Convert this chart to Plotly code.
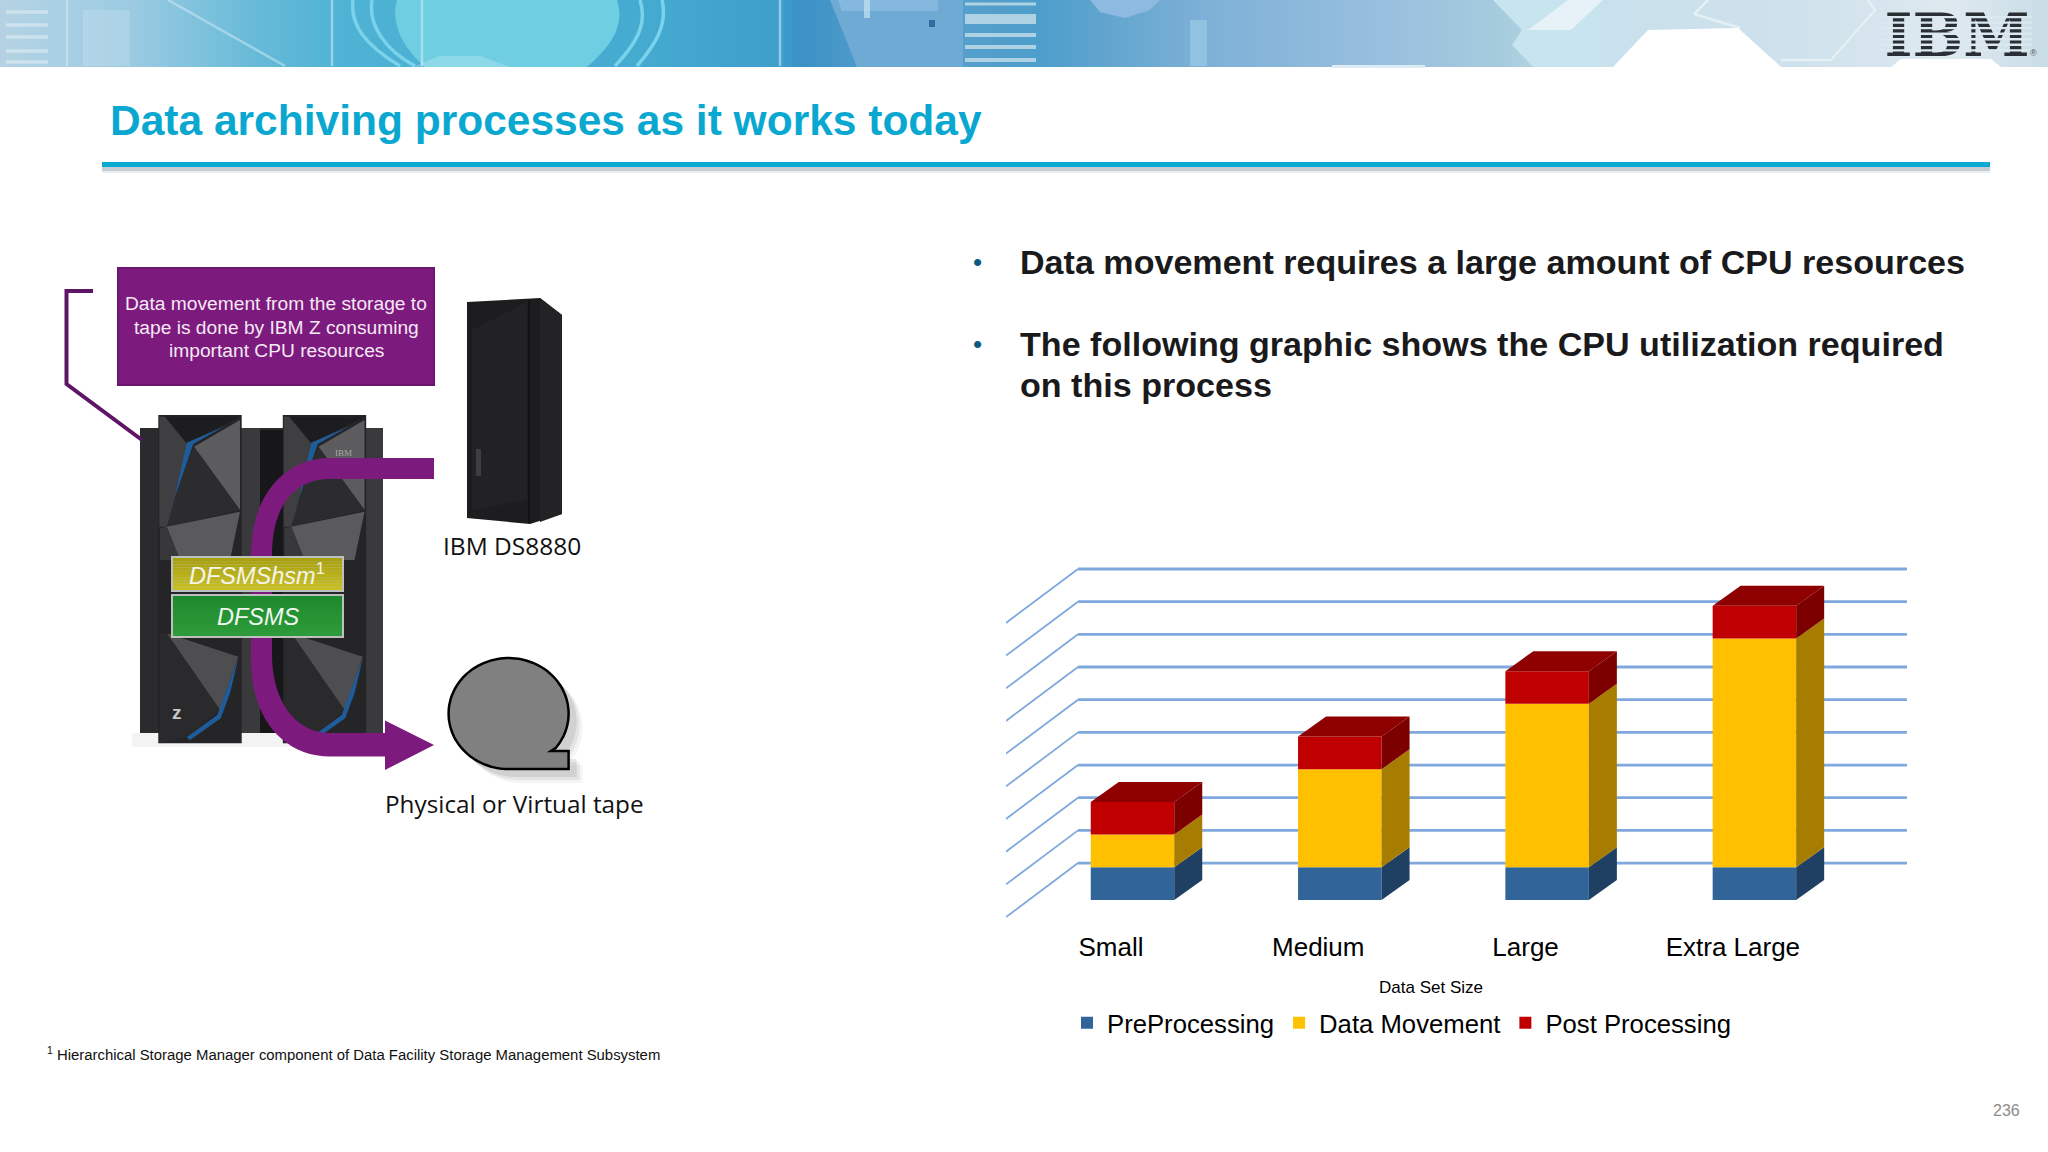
import numpy as np
import plotly.graph_objects as go

# chart data
categories = ["Small", "Medium", "Large", "Extra Large"]
preprocessing = [1, 1, 1, 1]
data_movement = [1, 3, 5, 7]
post_processing = [1, 1, 1, 1]
grid_values = [0, 1, 2, 3, 4, 5, 6, 7, 8, 9]

W, H = 2048, 1152
FONT = "Liberation Sans"
PURPLE = "#7D1A7E"
GRID = "#7FA8DC"

# pixel helpers, the slide is laid out in screen pixels
def dom_x(a, b):
    return [a / W, b / W]

def dom_y(top, bottom):
    return [1 - bottom / H, 1 - top / H]

# 3d look of the columns, in axis units
BAR_W = 83.5 / 207.3
DEPTH_X = 28 / 207.3
DEPTH_Y = 20 / 32.7
WALL_X = -72 / 829
WALL_Y = -54 / 32.7

series = [
    ("PreProcessing", preprocessing, "#31659A", "#1F3F63", "#1F3F63"),
    ("Data Movement", data_movement, "#FFC000", "#A67D00", "#A67D00"),
    ("Post Processing", post_processing, "#C00000", "#7D0000", "#8F0000"),
]

fig = go.Figure()

# back wall and side wall lines
back_x, back_y, side_x, side_y = [], [], [], []
for v in grid_values:
    back_x += [0, 1, None]
    back_y += [v, v, None]
    side_x += [0, WALL_X, None]
    side_y += [v, v + WALL_Y, None]
fig.add_trace(go.Scatter(x=back_x, y=back_y, mode="lines", line=dict(color=GRID, width=2.8),
                         showlegend=False, hoverinfo="skip", xaxis="x", yaxis="y"))
fig.add_trace(go.Scatter(x=side_x, y=side_y, mode="lines", line=dict(color=GRID, width=1.8),
                         showlegend=False, hoverinfo="skip", xaxis="x", yaxis="y"))

# stacked columns
base = [0, 0, 0, 0]
for name, vals, front, side, top in series:
    fig.add_trace(go.Bar(x=list(range(len(categories))), y=vals, base=base, name=name, width=BAR_W,
                         marker=dict(color=front, line=dict(width=0)), xaxis="x2", yaxis="y2",
                         hoverinfo="skip"))
    for i, v in enumerate(vals):
        xr = i + BAR_W / 2
        b = base[i]
        t = b + v
        fig.add_trace(go.Scatter(x=[xr, xr + DEPTH_X, xr + DEPTH_X, xr, xr],
                                 y=[b, b + DEPTH_Y, t + DEPTH_Y, t, b],
                                 mode="lines", fill="toself", fillcolor=side, line=dict(width=0),
                                 showlegend=False, hoverinfo="skip", xaxis="x2", yaxis="y2"))
    base = [b + v for b, v in zip(base, vals)]

# top faces of the stacks
top_color = series[-1][4]
for i, t in enumerate(base):
    xl, xr = i - BAR_W / 2, i + BAR_W / 2
    fig.add_trace(go.Scatter(x=[xl, xl + DEPTH_X, xr + DEPTH_X, xr, xl],
                             y=[t, t + DEPTH_Y, t + DEPTH_Y, t, t],
                             mode="lines", fill="toself", fillcolor=top_color, line=dict(width=0),
                             showlegend=False, hoverinfo="skip", xaxis="x2", yaxis="y2"))

# the striped logo needs to be a trace so the stripes can go on top of it
fig.add_trace(go.Scatter(x=[1957], y=[41], mode="text", text=["<b>IBM</b>"],
                         textfont=dict(family="DejaVu Serif", size=60, color="#2A2E35"),
                         textposition="middle center", showlegend=False, hoverinfo="skip",
                         cliponaxis=False, xaxis="x3", yaxis="y3"))

shapes = []

def rect(x0, y0, x1, y1, color, line=None, width=0, layer="below", opacity=1):
    shapes.append(dict(type="rect", xref="x3", yref="y3", x0=x0, y0=y0, x1=x1, y1=y1, fillcolor=color,
                       line=dict(color=line or color, width=width), layer=layer, opacity=opacity))

def poly(pts, color, line=None, width=0, layer="below", opacity=1):
    p = "M " + " L ".join(f"{x:.1f},{y:.1f}" for x, y in pts) + " Z"
    shapes.append(dict(type="path", xref="x3", yref="y3", path=p, fillcolor=color,
                       line=dict(color=line or color, width=width), layer=layer, opacity=opacity))

def stroke(pts, color, width, layer="below", opacity=1):
    p = "M " + " L ".join(f"{x:.1f},{y:.1f}" for x, y in pts)
    shapes.append(dict(type="path", xref="x3", yref="y3", path=p, line=dict(color=color, width=width),
                       layer=layer, opacity=opacity))

def curve(p, color, width, opacity=1):
    shapes.append(dict(type="path", xref="x3", yref="y3", path=p, line=dict(color=color, width=width),
                       layer="below", opacity=opacity))

# ---- banner
stops = [(0, "#B5D3E4"), (65, "#A9D0E4"), (130, "#9CCBE2"), (260, "#66BAD8"), (340, "#4FB3D5"),
         (640, "#46ABD1"),
         (780, "#3E9FCB"), (800, "#3B91C6"), (900, "#5BA1CE"), (1040, "#4E9ECB"), (1200, "#7DB0D6"),
         (1400, "#9BC1E0"), (1500, "#A5CCDD"), (1600, "#C9E1EC"), (1800, "#CFE2EC"), (1950, "#DFE9F0"),
         (2048, "#C9DDE7")]

def hex2rgb(c):
    return np.array([int(c[i:i + 2], 16) for i in (1, 3, 5)], float)

xs = [s[0] for s in stops]
rgb = np.array([hex2rgb(s[1]) for s in stops])
for x0 in range(0, W, 8):
    c = [np.interp(x0 + 4, xs, rgb[:, k]) for k in range(3)]
    rect(x0, 0, x0 + 8, 67, "rgb(%d,%d,%d)" % tuple(c))

for y in (12, 25, 37, 51, 62):
    stroke([(6, y), (48, y)], "#E4F0F6", 3.5, opacity=0.55)
rect(83, 10, 130, 66, "#FFFFFF", opacity=0.15)
# bright lens with the arcs around it
shapes.append(dict(type="path", xref="x3", yref="y3", fillcolor="#70CEE3", line=dict(width=0), layer="below",
                   path="M 397,0 C 390,25 405,50 425,67 L 587,67 C 612,45 625,25 617,0 Z"))
for x in (67, 332, 422, 780):
    stroke([(x, 0), (x, 66)], "#D4EEF7", 2.5, opacity=0.55)
stroke([(168, 0), (285, 66)], "#D4EEF7", 2.5, opacity=0.5)
curve("M 353,0 C 350,25 365,45 400,66", "#7AD3EA", 3.5)
curve("M 372,0 C 368,25 385,50 415,66", "#7AD3EA", 3.5)
curve("M 640,0 C 648,25 635,45 615,66", "#7AD3EA", 3.5)
curve("M 662,0 C 668,25 655,45 637,66", "#7AD3EA", 3.5)
poly([(412, 67), (440, 56), (480, 56), (510, 67)], "#FFFFFF", opacity=0.2)
# panel and stripes in the middle
poly([(830, 0), (857, 67), (963, 67), (963, 0)], "#6FAAD5")
poly([(838, 0), (938, 0), (938, 11), (842, 11)], "#85B8DE")
rect(864, 0, 870, 18, "#BADDEB", opacity=0.8)
rect(929, 20, 935, 27, "#2C6E9F")
for y, w in [(4, 3), (19, 10), (35, 4), (47, 4), (60, 4)]:
    stroke([(965, y), (1036, y)], "#BEDCE8", w, opacity=0.85)
# right part, circle and hexagons
poly([(1090, 0), (1100, 12), (1125, 18), (1150, 10), (1160, 0)], "#8CBAE0")
rect(1190, 20, 1207, 66, "#90C3E0")
poly([(1493, 0), (1522, 30), (1512, 45), (1533, 67), (1600, 67), (1600, 0)], "#C8E4EE")
poly([(1528, 30), (1568, 0), (1603, 0), (1571, 30)], "#E6F2F7")
stroke([(1694, 14), (1708, 0)], "#EAF4F8", 2.5, opacity=0.8)
stroke([(1694, 14), (1740, 28)], "#EAF4F8", 2.5, opacity=0.8)
stroke([(1868, 0), (1875, 10), (1831, 60), (1781, 60)], "#EAF4F8", 2.5, opacity=0.8)
poly([(1613, 67), (1648, 30), (1738, 28), (1781, 67)], "#FFFFFF")
poly([(1891, 67), (1901, 59), (1991, 59), (2001, 67)], "#FFFFFF")
rect(1332, 65, 1425, 68, "#DCEBF4")
# logo stripes, above the text trace
for k in range(1, 8):
    y = 11.5 + 5.55 * k
    stroke([(1880, y), (2032, y)], "#DCE8EF", 2.4, layer="above")

# ---- title rule
rect(102, 162, 1990, 167, "#0AA9D2")
rect(102, 167, 1990, 171, "#C5CDD3")
rect(102, 171, 1990, 173, "#EBEEF0")

# ---- server cabinets
def door(dx):
    def p(pts):
        return [(x / 3 + 130 + dx, y / 3 + 400) for x, y in pts]
    poly(p([(85, 45), (335, 45), (335, 1030), (85, 1030)]), "#252527")
    poly(p([(105, 50), (170, 130), (115, 380), (88, 380), (88, 50)]), "#3F3F41")
    poly(p([(105, 50), (330, 50), (170, 130)]), "#1D1D1F")
    poly(p([(192, 140), (330, 60), (330, 330)]), "#5C5C5E")
    poly(p([(192, 140), (330, 330), (110, 380), (150, 240)]), "#2C2C2E")
    poly(p([(170, 128), (285, 78), (190, 132), (135, 290), (116, 372)]), "#1F5C9A")
    poly(p([(110, 380), (330, 335), (300, 480), (150, 480)]), "#5A5A5C")
    poly(p([(90, 385), (110, 380), (150, 480), (90, 480)]), "#38383A")
    poly(p([(110, 700), (325, 770), (270, 930)]), "#4E4E50")
    poly(p([(110, 700), (270, 930), (170, 1012), (90, 1030), (90, 700)]), "#2A2A2C")
    poly(p([(170, 1012), (262, 945), (325, 775), (300, 880), (272, 955), (180, 1020)]), "#1F5C9A")

rect(132, 733, 392, 747, "#B5B5B5", opacity=0.16)
rect(140, 428, 383, 733, "#2B2B2D")
rect(241, 428, 260, 733, "#3A3A3C")
rect(260, 430, 283, 733, "#171719")
rect(365, 428, 383, 733, "#3A3A3C")
door(0)
door(124.5)

# ---- storage box
poly([(467, 302), (540, 298), (562, 315), (562, 514), (530, 524), (467, 518)], "#1D1D1F")
poly([(540, 298), (562, 315), (562, 514), (540, 522)], "#232325")
poly([(472, 330), (527, 302), (527, 500), (472, 510)], "#222224")
stroke([(529, 300), (529, 523)], "#101011", 1.5)
rect(476, 449, 481, 476, "#3E3E40")

# ---- purple box, bracket and arrow
stroke([(93, 291), (66.5, 291), (66.5, 384), (142, 440)], "#5E1566", 4)
rect(118, 268, 434, 385, PURPLE, line="#6A1670", width=2)
shapes.append(dict(type="path", xref="x3", yref="y3", fillcolor=PURPLE, line=dict(width=0), layer="below",
                   path="M 434,458 L 330,458 C 285,458 251,495 251,555 L 251,660 C 251,720 285,756.5 330,756.5 "
                        "L 385,756.5 L 385,770 L 434,745 L 385,720.5 L 385,733 L 330,733 C 295,733 272,700 272,655 "
                        "L 272,555 C 272,505 295,479 330,479 L 434,479 Z"))

# ---- software blocks
def gradient_box(x0, y0, x1, y1, c0, c1):
    rect(x0 - 2, y0 - 2, x1 + 2, y1 + 2, "#BDC1BD")
    a, b = hex2rgb(c0), hex2rgb(c1)
    n = 10
    for k in range(n):
        c = a + (b - a) * (k + 0.5) / n
        rect(x0, y0 + (y1 - y0) * k / n, x1, y0 + (y1 - y0) * (k + 1) / n, "rgb(%d,%d,%d)" % tuple(c))

gradient_box(173, 558, 342, 590, "#A89F10", "#C9C124")
gradient_box(173, 596, 342, 636, "#1E8A2E", "#2E9C3A")

# ---- tape
circle_pts = [(508.6 + 60 * np.cos(a), 713.6 + 55.5 * np.sin(a)) for a in np.radians(np.linspace(90, 398, 110))]
outline = [(568.6, 769)] + circle_pts + [(551, 751), (568.6, 751)]
for off, op in [(14, 0.08), (11, 0.12), (8, 0.16)]:
    poly([(x + off, y + off) for x, y in outline], "#707070", opacity=op)
poly(outline, "#808080", line="#000000", width=2.5)

# ---- text
notes = []

def text(x, y, s, size, color="#000000", family=FONT, anchor="left"):
    notes.append(dict(x=x / W, y=1 - y / H, xref="paper", yref="paper", text=s, showarrow=False,
                      xanchor=anchor, yanchor="middle", font=dict(family=family, size=size, color=color),
                      align=anchor))

text(107.5, 121, "<b>Data archiving processes as it works today</b>", 42.5, "#0AA8D0")
text(977, 262, "•", 26, "#0B5C80", anchor="center")
text(977, 344, "•", 26, "#0B5C80", anchor="center")
text(1018, 261.5, "<b>Data movement requires a large amount of CPU resources</b>", 34.1, "#1A1A1C")
text(1018, 344.5, "<b>The following graphic shows the CPU utilization required</b>", 34.1, "#1A1A1C")
text(1018, 384.5, "<b>on this process</b>", 34.1, "#1A1A1C")
text(276, 304, "Data movement from the storage to", 19.2, "#F4E9F4", anchor="center")
text(276, 327, "tape is done by IBM Z consuming", 19.2, "#F4E9F4", anchor="center")
text(276, 350.5, "important CPU resources", 19.2, "#F4E9F4", anchor="center")
text(257, 574, "<i>DFSMShsm</i><sup>1</sup>", 23.5, "#F5F5EA", anchor="center")
text(258, 617, "<i>DFSMS</i>", 23.5, "#F0F7F0", anchor="center")
text(512, 546, "IBM DS8880", 24.5, "#111111", "Open Sans", "center")
text(514, 803, "Physical or Virtual tape", 24.3, "#111111", "Open Sans", "center")
text(177, 712, "<b>z</b>", 19, "#C8C8C8", anchor="center")
text(343, 453, "IBM", 9, "#A8A8A8", "Liberation Serif", "center")
text(45, 1054, "<sup>1</sup> Hierarchical Storage Manager component of Data Facility Storage Management Subsystem", 14.9, "#111111")
text(2006, 1110, "236", 16, "#8C8C8C", anchor="center")
text(2033, 53, "®", 9, "#555555", anchor="center")

hidden = dict(visible=False, fixedrange=True)

fig.update_layout(
    width=W, height=H, margin=dict(l=0, r=0, t=0, b=0, autoexpand=False),
    paper_bgcolor="white", plot_bgcolor="rgba(0,0,0,0)",
    font=dict(family=FONT, color="#000000"),
    barmode="overlay",
    shapes=shapes, annotations=notes,
    # walls of the chart, one unit is one gridline
    xaxis=dict(domain=dom_x(1006, 1907), range=[WALL_X, 1], anchor="y", **hidden),
    yaxis=dict(domain=dom_y(565, 919), range=[WALL_Y - 2 / 32.7, 9 + 4 / 32.7], anchor="x", **hidden),
    # columns and category axis
    xaxis2=dict(domain=dom_x(1006, 1856), range=[-0.6102, 3.490], anchor="y2", fixedrange=True,
                tickvals=[i - 0.104 for i in range(len(categories))], ticktext=categories,
                tickfont=dict(size=26, color="#000000"), ticks="", showline=False, showgrid=False, zeroline=False,
                ticklabelstandoff=12,
                title=dict(text="Data Set Size", font=dict(size=17, color="#000000"), standoff=19.5)),
    yaxis2=dict(domain=dom_y(560, 917), range=[-0.52, 10.4], anchor="x2", visible=False, fixedrange=True),
    # full slide in pixels, for the drawing around the chart
    xaxis3=dict(domain=[0, 1], range=[0, W], anchor="y3", **hidden),
    yaxis3=dict(domain=[0, 1], range=[H, 0], anchor="x3", **hidden),
    legend=dict(orientation="h", x=1067 / W, y=1 - 1023 / H, xanchor="left", yanchor="middle",
                font=dict(size=25.7, color="#000000"), bgcolor="rgba(0,0,0,0)", traceorder="normal",
                itemwidth=30, tracegroupgap=0),
)

fig.write_html("out.html", config={"displayModeBar": False},
               post_script="document.body.style.margin='0';document.body.style.overflow='hidden';")
